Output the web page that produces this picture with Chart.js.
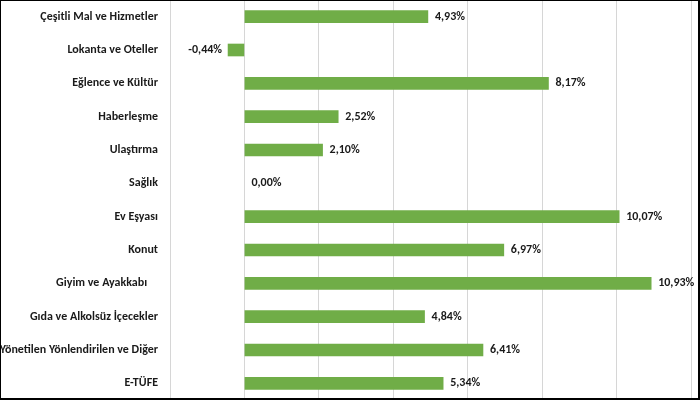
<!DOCTYPE html>
<html>
<head>
<meta charset="utf-8">
<script src="https://cdn.jsdelivr.net/npm/chart.js@4/dist/chart.umd.min.js"></script>
<style>
  html, body { margin: 0; padding: 0; background: #fff; }
  #wrap { position: relative; width: 700px; height: 400px; }
  #frame { position: absolute; left: 0; top: 0; width: 700px; height: 400px; box-sizing: border-box;
           border: 1px solid #000; border-right-width: 2px; border-bottom-width: 2px; pointer-events: none; }
</style>
</head>
<body>
<div id="wrap">
  <canvas id="chart" width="700" height="400"></canvas>
  <div id="frame"></div>
</div>
<script>
const categories = [
  'Çeşitli Mal ve Hizmetler',
  'Lokanta ve Oteller',
  'Eğlence ve Kültür',
  'Haberleşme',
  'Ulaştırma',
  'Sağlık',
  'Ev Eşyası',
  'Konut',
  'Giyim ve Ayakkabı    ',
  'Gıda ve Alkolsüz İçecekler',
  'Yönetilen Yönlendirilen ve Diğer',
  'E-TÜFE'
];
const changes = [4.93, -0.44, 8.17, 2.52, 2.10, 0.00, 10.07, 6.97, 10.93, 4.84, 6.41, 5.34];

const fontFamily = 'Carlito, "Liberation Sans", sans-serif';

// draws the value next to each bar, like Excel's data labels
const valueLabels = {
  id: 'valueLabels',
  afterDatasetsDraw(chart) {
    const ctx = chart.ctx;
    const meta = chart.getDatasetMeta(0);
    ctx.save();
    ctx.font = 'bold 12px ' + fontFamily;
    ctx.fillStyle = '#1a1a1a';
    ctx.textBaseline = 'middle';
    meta.data.forEach((bar, i) => {
      const v = changes[i];
      const txt = v.toFixed(2).replace('.', ',') + '%';
      if (v < 0) {
        ctx.textAlign = 'right';
        ctx.fillText(txt, bar.x - 6, bar.y);
      } else {
        ctx.textAlign = 'left';
        ctx.fillText(txt, bar.x + 7, bar.y);
      }
    });
    ctx.restore();
  }
};

new Chart(document.getElementById('chart').getContext('2d'), {
  type: 'bar',
  data: {
    labels: categories,
    datasets: [{
      data: changes,
      // a zero bar would leave a hairline, Excel shows nothing
      backgroundColor: changes.map(v => v === 0 ? 'rgba(0,0,0,0)' : '#70AD47'),
      borderWidth: 0,
      barThickness: 12
    }]
  },
  options: {
    indexAxis: 'y',
    responsive: false,
    animation: false,
    layout: { padding: { top: 0, bottom: 0, left: 0, right: 9 } },
    plugins: { legend: { display: false }, tooltip: { enabled: false } },
    scales: {
      x: {
        min: -2,
        max: 12,
        afterFit(scale) { scale.height = 0; scale.paddingLeft = 0; scale.paddingRight = 0; },
        ticks: { display: false, stepSize: 2 },
        grid: { color: '#d6d6d6', lineWidth: 1, drawTicks: false },
        border: { display: false }
      },
      y: {
        afterFit(scale) { scale.width = 170; scale.paddingTop = 0; scale.paddingBottom = 0; },
        ticks: {
          padding: 12,
          color: '#1a1a1a',
          font: { family: fontFamily, size: 12, weight: 'bold' }
        },
        grid: { display: false, drawTicks: false },
        border: { display: false }
      }
    }
  },
  plugins: [valueLabels]
});
</script>
</body>
</html>
